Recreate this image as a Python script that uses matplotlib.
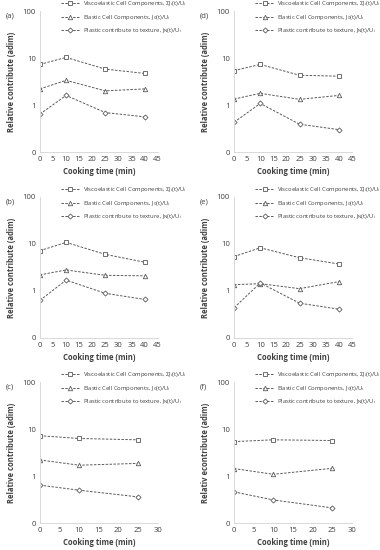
import matplotlib
matplotlib.use('Agg')
import matplotlib.pyplot as plt

plt.rcParams['font.family'] = ['Open Sans', 'DejaVu Sans']

# Cooking times (min)
time_long = [0, 10, 25, 40]
time_short = [0, 10, 25]

# Relative contributions
visco_a = [7.3, 10.3, 5.8, 4.7]
elastic_a = [2.2, 3.35, 2.0, 2.2]
plastic_a = [0.64, 1.6, 0.69, 0.56]

visco_b = [7.2, 10.8, 6.0, 4.1]
elastic_b = [2.2, 2.8, 2.15, 2.1]
plastic_b = [0.63, 1.7, 0.89, 0.66]

visco_c = [7.2, 6.3, 5.9]
elastic_c = [2.2, 1.7, 1.86]
plastic_c = [0.64, 0.5, 0.36]

visco_d = [5.4, 7.3, 4.3, 4.1]
elastic_d = [1.34, 1.77, 1.32, 1.6]
plastic_d = [0.43, 1.08, 0.39, 0.30]

visco_e = [5.4, 8.3, 5.1, 3.75]
elastic_e = [1.36, 1.43, 1.12, 1.58]
plastic_e = [0.44, 1.48, 0.55, 0.41]

visco_f = [5.4, 5.9, 5.7]
elastic_f = [1.44, 1.09, 1.46]
plastic_f = [0.46, 0.31, 0.21]

legend_labels = [r'Viscoelastic Cell Components, $\mathregular{\Sigma J_i(t)/U_i}$',
                 r'Elastic Cell Components, $\mathregular{J_0(t)/U_i}$',
                 r'Plastic contribute to texture, $\mathregular{J_N(t)/U_i}$']
y_ticks = [0.1, 1, 10, 100]
y_ticklabels = ['0', '1', '10', '100']

panels = [
    ('(a)', time_long, visco_a, elastic_a, plastic_a, 45, 'Relative contribute (adim)'),
    ('(b)', time_long, visco_b, elastic_b, plastic_b, 45, 'Relative contribute (adim)'),
    ('(c)', time_short, visco_c, elastic_c, plastic_c, 30, 'Relative contribute (adim)'),
    ('(d)', time_long, visco_d, elastic_d, plastic_d, 45, 'Relative contribute (adim)'),
    ('(e)', time_long, visco_e, elastic_e, plastic_e, 45, 'Relative contribute (adim)'),
    ('(f)', time_short, visco_f, elastic_f, plastic_f, 30, 'Relativ econtribute (adim)'),
]

# axes positions (left, bottom, width, height) in figure fraction
lefts = [0.105, 0.105, 0.105, 0.616, 0.616, 0.616]
bottoms = [0.7236, 0.3855, 0.049, 0.7236, 0.3855, 0.049]
width = 0.31
height = 0.2564

fig = plt.figure(figsize=(3.8, 5.5), dpi=100)

line_color = '#595959'
text_color = '#404040'

for i, (tag, t, visco, elastic, plastic, xmax, ylab) in enumerate(panels):
    ax = fig.add_axes([lefts[i], bottoms[i], width, height])
    style = dict(color=line_color, linestyle='--', linewidth=0.7, markersize=3.2,
                 markerfacecolor='white', markeredgecolor=line_color, markeredgewidth=0.6,
                 dashes=(2.5, 1.5))
    ax.plot(t, visco, marker='s', label=legend_labels[0], **style)
    ax.plot(t, elastic, marker='^', label=legend_labels[1], **style)
    ax.plot(t, plastic, marker='D', label=legend_labels[2], **dict(style, markersize=2.6))

    ax.set_yscale('log')
    ax.set_ylim(0.1, 100)
    ax.set_yticks(y_ticks)
    ax.set_yticklabels(y_ticklabels)
    ax.minorticks_off()
    ax.set_xlim(0, xmax)
    ax.set_xticks(range(0, xmax + 1, 5))
    ax.tick_params(length=0, labelsize=5.5, labelcolor=text_color, pad=3)

    for side in ['top', 'right']:
        ax.spines[side].set_visible(False)
    for side in ['left', 'bottom']:
        ax.spines[side].set_color('#d9d9d9')
        ax.spines[side].set_linewidth(0.7)

    ax.set_xlabel('Cooking time (min)', fontsize=5.5, fontweight='bold', color=text_color, labelpad=3)
    ax.set_ylabel(ylab, fontsize=5.5, fontweight='bold', color=text_color, labelpad=5)

    leg = ax.legend(loc='upper left', bbox_to_anchor=(0.16, 1.1), frameon=False,
                    fontsize=4.2, handlelength=3.2, labelspacing=0.75, handletextpad=0.5,
                    borderaxespad=0)
    for txt in leg.get_texts():
        txt.set_color(text_color)

    fig.text(lefts[i] - 0.09, bottoms[i] + height - 0.012, tag, fontsize=5.5, color=text_color)

fig.savefig('out.png', dpi=100)
